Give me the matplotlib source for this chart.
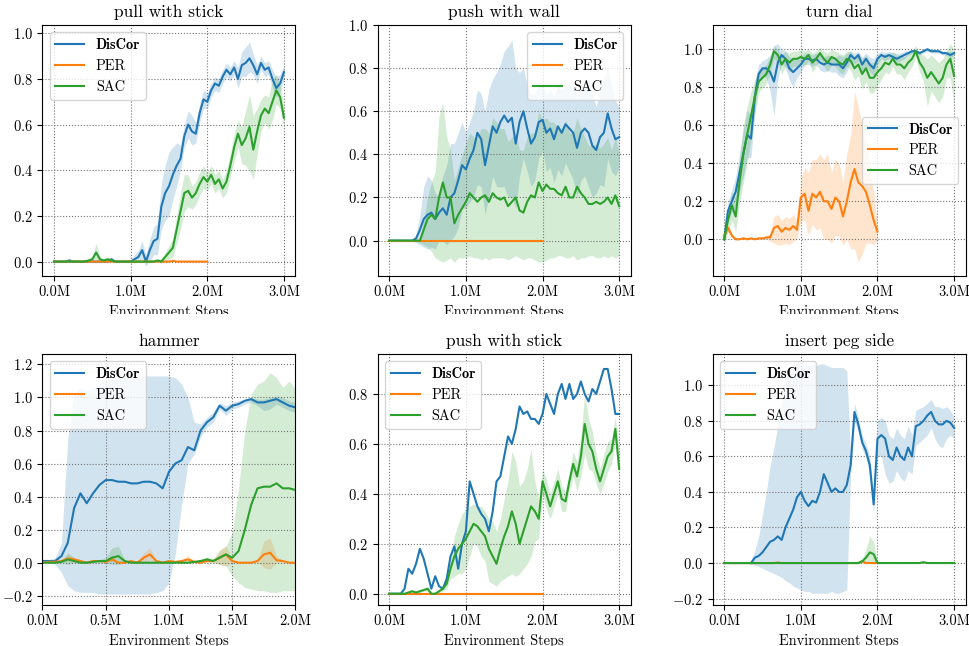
import numpy as np
import matplotlib.pyplot as plt
import matplotlib.ticker as mticker
from matplotlib.patches import Rectangle

plt.rcParams['font.family'] = 'serif'
plt.rcParams['font.serif'] = ['cmr10']
plt.rcParams['mathtext.fontset'] = 'cm'
plt.rcParams['axes.formatter.use_mathtext'] = True
plt.rcParams['font.size'] = 10.4

# environment steps, in millions
steps_3m = np.linspace(0.0, 3.0, 61)
steps_2m = np.linspace(0.0, 2.0, 41)

# ---- pull with stick ----
pull_discor = [0.00, 0.00, 0.00, 0.00, 0.005, 0.00, 0.00, 0.00, 0.00, 0.00,
               0.00, 0.00, 0.00, 0.00, 0.00, 0.01, 0.00, 0.00, 0.00, 0.00,
               0.00, 0.01, 0.02, 0.05, 0.00, 0.05, 0.09, 0.10, 0.24, 0.30,
               0.33, 0.38, 0.42, 0.45, 0.55, 0.60, 0.57, 0.56, 0.65, 0.71,
               0.70, 0.75, 0.78, 0.77, 0.81, 0.84, 0.82, 0.85, 0.80, 0.86,
               0.87, 0.89, 0.86, 0.82, 0.87, 0.84, 0.85, 0.80, 0.76, 0.78,
               0.83]
pull_discor_lo = [0.0] * 20 + [
               0.00, 0.00, 0.00, 0.01, -0.02, 0.00, 0.03, 0.03, 0.14, 0.18,
               0.20, 0.27, 0.33, 0.40, 0.50, 0.54, 0.51, 0.52, 0.61, 0.67,
               0.67, 0.72, 0.75, 0.74, 0.78, 0.81, 0.79, 0.82, 0.76, 0.81,
               0.81, 0.83, 0.82, 0.78, 0.84, 0.81, 0.82, 0.76, 0.72, 0.74,
               0.80]
pull_discor_hi = [0.00, 0.00, 0.00, 0.00, 0.015, 0.00, 0.00, 0.00, 0.00, 0.00,
                  0.00, 0.00, 0.00, 0.00, 0.00, 0.02, 0.00, 0.00, 0.00, 0.00,
                  0.01, 0.03, 0.05, 0.09, 0.03, 0.10, 0.15, 0.17, 0.34, 0.42,
                  0.48, 0.50, 0.52, 0.51, 0.60, 0.66, 0.64, 0.61, 0.69, 0.75,
                  0.74, 0.78, 0.81, 0.80, 0.84, 0.87, 0.85, 0.88, 0.85, 0.92,
                  0.94, 0.96, 0.91, 0.86, 0.90, 0.87, 0.88, 0.84, 0.81, 0.82,
                  0.86]
pull_sac = [0.00, 0.00, 0.00, 0.00, 0.00, 0.00, 0.00, 0.00, 0.00, 0.005,
            0.01, 0.04, 0.01, 0.005, 0.01, 0.005, 0.00, 0.00, 0.00, 0.00,
            0.00, 0.00, 0.00, 0.00, 0.00, 0.00, 0.00, 0.005, 0.00, 0.02,
            0.04, 0.06, 0.14, 0.22, 0.30, 0.31, 0.28, 0.30, 0.34, 0.37,
            0.35, 0.38, 0.34, 0.36, 0.32, 0.35, 0.42, 0.50, 0.56, 0.51,
            0.54, 0.59, 0.49, 0.57, 0.64, 0.67, 0.65, 0.70, 0.75, 0.72,
            0.63]
pull_sac_lo = [0.0] * 11 + [0.01] + [0.0] * 18 + [
               0.01, 0.02, 0.08, 0.14, 0.22, 0.24, 0.23, 0.25, 0.29, 0.32,
               0.31, 0.34, 0.30, 0.32, 0.28, 0.30, 0.37, 0.44, 0.50, 0.43,
               0.42, 0.40, 0.36, 0.47, 0.57, 0.61, 0.58, 0.62, 0.69, 0.67,
               0.58]
pull_sac_hi = [0.00, 0.00, 0.00, 0.00, 0.00, 0.00, 0.00, 0.00, 0.00, 0.01,
               0.02, 0.08, 0.02, 0.01, 0.02, 0.01, 0.00, 0.00, 0.00, 0.00,
               0.00, 0.00, 0.00, 0.00, 0.00, 0.00, 0.00, 0.01, 0.01, 0.04,
               0.07, 0.10, 0.20, 0.30, 0.38, 0.38, 0.33, 0.35, 0.39, 0.42,
               0.39, 0.42, 0.38, 0.40, 0.36, 0.40, 0.47, 0.56, 0.62, 0.59,
               0.66, 0.73, 0.64, 0.67, 0.71, 0.73, 0.72, 0.80, 0.82, 0.77,
               0.68]
pull_per = [0.0] * 31 + [0.003] + [0.0] * 9

# ---- push with wall ----
wall_discor = [0.00, 0.00, 0.00, 0.00, 0.00, 0.00, 0.00, 0.01, 0.05, 0.10,
               0.12, 0.13, 0.10, 0.13, 0.15, 0.12, 0.20, 0.22, 0.28, 0.35,
               0.33, 0.38, 0.42, 0.50, 0.47, 0.35, 0.44, 0.53, 0.50, 0.55,
               0.58, 0.55, 0.57, 0.45, 0.55, 0.60, 0.52, 0.45, 0.48, 0.55,
               0.56, 0.50, 0.52, 0.47, 0.53, 0.50, 0.54, 0.52, 0.50, 0.43,
               0.50, 0.52, 0.50, 0.44, 0.42, 0.48, 0.50, 0.59, 0.52, 0.47,
               0.48]
wall_discor_lo = [0.00, 0.00, 0.00, 0.00, 0.00, 0.00, 0.00, -0.01, -0.02, -0.03,
                  -0.04, -0.03, -0.04, 0.00, 0.00, -0.02, 0.00, 0.02, 0.06, 0.15,
                  0.15, 0.18, 0.20, 0.26, 0.25, 0.12, 0.20, 0.30, 0.25, 0.25,
                  0.25, 0.20, 0.20, 0.15, 0.30, 0.38, 0.32, 0.25, 0.28, 0.38,
                  0.42, 0.32, 0.34, 0.27, 0.33, 0.30, 0.36, 0.32, 0.28, 0.20,
                  0.28, 0.30, 0.25, 0.20, 0.22, 0.26, 0.25, 0.38, 0.32, 0.30,
                  0.34]
wall_discor_hi = [0.00, 0.00, 0.00, 0.00, 0.00, 0.00, 0.00, 0.02, 0.12, 0.25,
                  0.30, 0.28, 0.22, 0.20, 0.30, 0.35, 0.45, 0.45, 0.50, 0.55,
                  0.50, 0.55, 0.60, 0.70, 0.68, 0.60, 0.70, 0.75, 0.78, 0.82,
                  0.88, 0.90, 0.93, 0.80, 0.78, 0.80, 0.72, 0.68, 0.68, 0.72,
                  0.72, 0.68, 0.70, 0.67, 0.72, 0.70, 0.72, 0.72, 0.72, 0.66,
                  0.72, 0.74, 0.75, 0.68, 0.62, 0.70, 0.75, 0.80, 0.72, 0.65,
                  0.62]
wall_sac = [0.00, 0.00, 0.00, 0.00, 0.00, 0.00, 0.00, 0.00, 0.00, 0.05,
            0.10, 0.12, 0.10, 0.20, 0.27, 0.20, 0.20, 0.08, 0.12, 0.15,
            0.18, 0.22, 0.20, 0.18, 0.20, 0.21, 0.18, 0.22, 0.20, 0.19,
            0.20, 0.16, 0.18, 0.20, 0.14, 0.13, 0.18, 0.21, 0.20, 0.27,
            0.23, 0.26, 0.24, 0.24, 0.22, 0.21, 0.25, 0.20, 0.20, 0.25,
            0.22, 0.20, 0.17, 0.17, 0.18, 0.17, 0.18, 0.20, 0.17, 0.21,
            0.16]
wall_sac_lo = [0.00, 0.00, 0.00, 0.00, 0.00, 0.00, 0.00, 0.00, -0.01, -0.02,
               -0.03, -0.05, -0.08, -0.09, -0.10, -0.09, -0.08, -0.10, -0.08, -0.08,
               -0.08, -0.07, -0.08, -0.08, -0.09, -0.08, -0.09, -0.08, -0.08, -0.08,
               -0.08, -0.09, -0.08, -0.07, -0.08, -0.09, -0.08, -0.08, -0.09, -0.10,
               -0.10, -0.09, -0.08, -0.08, -0.07, -0.07, -0.08, -0.08, -0.07, -0.09,
               -0.08, -0.08, -0.07, -0.07, -0.08, -0.08, -0.07, -0.08, -0.07, -0.08,
               -0.07]
wall_sac_hi = [0.00, 0.00, 0.00, 0.00, 0.00, 0.00, 0.00, 0.00, 0.01, 0.10,
               0.20, 0.27, 0.32, 0.58, 0.64, 0.48, 0.42, 0.28, 0.34, 0.40,
               0.45, 0.50, 0.48, 0.48, 0.52, 0.52, 0.50, 0.57, 0.55, 0.52,
               0.52, 0.46, 0.48, 0.50, 0.42, 0.42, 0.48, 0.50, 0.50, 0.60,
               0.56, 0.57, 0.55, 0.55, 0.52, 0.50, 0.56, 0.50, 0.50, 0.57,
               0.52, 0.48, 0.44, 0.44, 0.45, 0.43, 0.45, 0.48, 0.42, 0.48,
               0.41]
wall_per = [0.0] * 41

# ---- turn dial ----
dial_discor = [0.00, 0.15, 0.20, 0.25, 0.35, 0.45, 0.55, 0.53, 0.75, 0.87,
               0.90, 0.90, 0.88, 0.83, 0.93, 0.97, 0.95, 0.90, 0.88, 0.90,
               0.92, 0.95, 0.95, 0.94, 0.95, 0.93, 0.92, 0.93, 0.92, 0.92,
               0.92, 0.90, 0.93, 0.97, 0.95, 0.97, 0.92, 0.95, 0.92, 0.90,
               0.95, 0.97, 0.96, 0.97, 0.96, 0.95, 0.96, 0.97, 0.98, 0.99,
               0.99, 0.98, 0.99, 1.00, 0.99, 0.99, 0.99, 0.98, 0.98, 0.97,
               0.98]
dial_discor_lo = [-0.02, 0.10, 0.14, 0.17, 0.25, 0.33, 0.43, 0.43, 0.67, 0.82,
                  0.86, 0.85, 0.78, 0.65, 0.84, 0.93, 0.90, 0.84, 0.80, 0.85,
                  0.88, 0.92, 0.92, 0.91, 0.92, 0.89, 0.88, 0.89, 0.88, 0.88,
                  0.86, 0.85, 0.88, 0.94, 0.92, 0.94, 0.88, 0.91, 0.88, 0.86,
                  0.92, 0.95, 0.94, 0.95, 0.94, 0.93, 0.94, 0.95, 0.97, 0.98,
                  0.98, 0.97, 0.98, 0.99, 0.98, 0.98, 0.98, 0.97, 0.97, 0.95,
                  0.97]
dial_discor_hi = [0.02, 0.20, 0.26, 0.33, 0.45, 0.58, 0.68, 0.65, 0.83, 0.92,
                  0.94, 0.95, 0.97, 1.02, 1.03, 1.00, 0.99, 0.96, 0.95, 0.95,
                  0.96, 0.98, 0.98, 0.97, 0.98, 0.97, 0.96, 0.97, 0.96, 0.96,
                  0.97, 0.96, 0.98, 0.99, 0.98, 0.99, 0.96, 0.98, 0.96, 0.95,
                  0.98, 0.99, 0.98, 0.99, 0.98, 0.98, 0.98, 0.99, 0.99, 1.00,
                  1.00, 0.99, 1.00, 1.01, 1.00, 1.00, 1.00, 0.99, 0.99, 0.99,
                  0.99]
dial_sac = [0.00, 0.10, 0.18, 0.12, 0.30, 0.45, 0.55, 0.65, 0.75, 0.83,
            0.85, 0.87, 0.92, 0.99, 0.97, 0.92, 0.95, 0.93, 0.95, 0.95,
            0.96, 0.95, 0.97, 0.93, 0.95, 0.98, 0.95, 0.93, 0.96, 0.95,
            0.93, 0.92, 0.95, 0.94, 0.90, 0.92, 0.87, 0.90, 0.85, 0.85,
            0.88, 0.90, 0.93, 0.92, 0.95, 0.92, 0.92, 0.90, 0.93, 0.95,
            0.99, 0.93, 0.90, 0.85, 0.88, 0.85, 0.82, 0.85, 0.92, 0.95,
            0.86]
dial_sac_lo = [-0.03, 0.04, 0.10, 0.04, 0.18, 0.30, 0.40, 0.52, 0.66, 0.77,
               0.80, 0.82, 0.88, 0.95, 0.93, 0.87, 0.91, 0.88, 0.91, 0.91,
               0.92, 0.91, 0.94, 0.88, 0.91, 0.95, 0.91, 0.88, 0.92, 0.91,
               0.88, 0.87, 0.91, 0.89, 0.84, 0.86, 0.79, 0.83, 0.77, 0.77,
               0.81, 0.84, 0.88, 0.87, 0.91, 0.87, 0.87, 0.84, 0.88, 0.91,
               0.96, 0.88, 0.83, 0.70, 0.78, 0.75, 0.72, 0.75, 0.85, 0.85,
               0.70]
dial_sac_hi = [0.03, 0.16, 0.25, 0.22, 0.42, 0.60, 0.70, 0.78, 0.84, 0.89,
               0.90, 0.92, 0.96, 1.02, 1.00, 0.97, 0.99, 0.98, 0.99, 0.99,
               1.00, 0.99, 1.00, 0.98, 0.99, 1.01, 0.99, 0.98, 1.00, 0.99,
               0.98, 0.97, 0.99, 0.99, 0.96, 0.98, 0.95, 0.97, 0.93, 0.93,
               0.95, 0.96, 0.98, 0.97, 0.99, 0.97, 0.97, 0.96, 0.98, 0.99,
               1.02, 0.98, 0.97, 0.95, 0.97, 0.95, 0.93, 0.95, 0.99, 1.03,
               1.00]
dial_per = [0.02, 0.06, 0.02, 0.00, 0.00, 0.005, 0.00, 0.005, 0.00, 0.005,
            0.005, 0.01, 0.01, 0.06, 0.07, 0.04, 0.06, 0.05, 0.07, 0.05,
            0.22, 0.24, 0.15, 0.24, 0.22, 0.25, 0.20, 0.20, 0.16, 0.22,
            0.20, 0.12, 0.20, 0.30, 0.37, 0.30, 0.28, 0.25, 0.18, 0.10,
            0.04]
dial_per_lo = [0.01, 0.04, 0.01, 0.00, 0.00, 0.00, 0.00, 0.00, 0.00, 0.00,
               0.00, 0.00, -0.01, -0.02, -0.03, -0.03, -0.02, -0.03, -0.01, 0.00,
               0.10, 0.10, 0.02, 0.08, 0.05, 0.06, 0.00, 0.00, -0.02, 0.02,
               0.02, -0.03, 0.00, -0.05, -0.05, -0.12, -0.08, -0.02, -0.02, -0.03,
               0.00]
dial_per_hi = [0.03, 0.08, 0.03, 0.01, 0.01, 0.01, 0.01, 0.01, 0.01, 0.01,
               0.01, 0.02, 0.03, 0.12, 0.13, 0.10, 0.12, 0.11, 0.13, 0.10,
               0.32, 0.38, 0.35, 0.42, 0.42, 0.45, 0.42, 0.45, 0.35, 0.42,
               0.40, 0.30, 0.45, 0.55, 0.78, 0.70, 0.60, 0.50, 0.38, 0.25,
               0.08]

# ---- hammer ----
ham_discor = [0.01, 0.01, 0.01, 0.04, 0.12, 0.33, 0.42, 0.36, 0.42, 0.47,
              0.50, 0.50, 0.49, 0.49, 0.48, 0.48, 0.49, 0.49, 0.48, 0.45,
              0.55, 0.60, 0.62, 0.70, 0.68, 0.80, 0.85, 0.88, 0.95, 0.92,
              0.95, 0.96, 0.98, 0.99, 0.97, 0.97, 0.98, 0.99, 0.97, 0.95,
              0.94]
ham_discor_lo = [0.00, 0.00, -0.01, -0.06, -0.14, -0.17, -0.18, -0.18, -0.18, -0.19,
                 -0.19, -0.19, -0.19, -0.19, -0.19, -0.19, -0.19, -0.19, -0.18, -0.17,
                 -0.12, 0.05, 0.35, 0.60, 0.66, 0.76, 0.82, 0.85, 0.93, 0.89,
                 0.93, 0.94, 0.96, 0.97, 0.95, 0.92, 0.93, 0.96, 0.94, 0.92,
                 0.91]
ham_discor_hi = [0.02, 0.02, 0.03, 0.12, 0.75, 1.02, 1.06, 1.04, 1.06, 1.08,
                 1.10, 1.11, 1.12, 1.12, 1.12, 1.13, 1.13, 1.13, 1.13, 1.13,
                 1.13, 1.12, 1.08, 1.00, 0.85, 0.84, 0.88, 0.91, 0.97, 0.95,
                 0.97, 0.98, 0.99, 1.00, 0.99, 0.99, 1.00, 1.01, 1.00, 0.98,
                 0.97]
ham_sac = [0.00, 0.00, 0.00, 0.005, 0.02, 0.01, 0.00, 0.00, 0.005, 0.01,
           0.01, 0.03, 0.04, 0.01, 0.00, 0.00, 0.00, 0.00, 0.00, 0.00,
           0.00, 0.00, 0.00, 0.00, 0.005, 0.01, 0.02, 0.01, 0.03, 0.05,
           0.03, 0.07, 0.20, 0.35, 0.45, 0.46, 0.46, 0.48, 0.45, 0.45,
           0.44]
ham_sac_lo = [0.00, 0.00, 0.00, 0.00, -0.01, 0.00, 0.00, 0.00, 0.00, 0.00,
              0.00, -0.01, -0.01, 0.00, 0.00, 0.00, 0.00, 0.00, 0.00, 0.00,
              0.00, 0.00, 0.00, 0.00, 0.00, 0.00, 0.005, 0.00, -0.01, -0.02,
              -0.08, -0.12, -0.15, -0.16, -0.17, -0.17, -0.18, -0.18, -0.17, -0.17,
              -0.17]
ham_sac_hi = [0.005, 0.005, 0.005, 0.01, 0.06, 0.03, 0.01, 0.005, 0.01, 0.02,
              0.03, 0.09, 0.10, 0.02, 0.00, 0.00, 0.00, 0.00, 0.00, 0.00,
              0.00, 0.00, 0.00, 0.00, 0.01, 0.02, 0.035, 0.02, 0.07, 0.10,
              0.18, 0.45, 0.80, 1.02, 1.08, 1.10, 1.15, 1.12, 1.06, 1.10,
              1.05]
ham_per = [0.00, 0.005, 0.005, 0.01, 0.025, 0.02, 0.01, 0.00, 0.01, 0.01,
           0.005, 0.02, 0.00, 0.00, 0.01, 0.00, 0.03, 0.05, 0.01, 0.00,
           0.01, 0.005, 0.01, 0.02, 0.005, 0.00, 0.01, 0.01, 0.03, 0.05,
           0.01, 0.00, 0.00, 0.00, 0.01, 0.05, 0.06, 0.015, 0.01, 0.00,
           0.00]
ham_per_lo = [0.00, 0.00, 0.00, 0.005, 0.01, 0.01, 0.005, 0.00, 0.005, 0.005,
              0.00, 0.01, 0.00, 0.00, 0.005, 0.00, 0.00, 0.015, 0.005, 0.00,
              0.005, 0.00, 0.005, 0.00, 0.00, 0.00, 0.005, 0.005, -0.01, -0.02,
              0.00, 0.00, 0.00, 0.00, 0.005, -0.03, -0.04, 0.00, 0.005, 0.00,
              0.00]
ham_per_hi = [0.00, 0.01, 0.01, 0.015, 0.05, 0.03, 0.015, 0.00, 0.015, 0.015,
              0.01, 0.05, 0.00, 0.00, 0.015, 0.00, 0.06, 0.09, 0.015, 0.00,
              0.015, 0.01, 0.015, 0.045, 0.01, 0.00, 0.015, 0.015, 0.08, 0.10,
              0.02, 0.00, 0.00, 0.00, 0.015, 0.13, 0.15, 0.04, 0.015, 0.00,
              0.00]

# ---- push with stick ----
stick_discor = [0.00, 0.00, 0.00, 0.00, 0.02, 0.10, 0.08, 0.12, 0.18, 0.14,
                0.08, 0.02, 0.07, 0.03, 0.02, 0.06, 0.15, 0.19, 0.10, 0.20,
                0.25, 0.45, 0.40, 0.35, 0.32, 0.30, 0.25, 0.33, 0.45, 0.47,
                0.55, 0.63, 0.60, 0.66, 0.75, 0.72, 0.73, 0.70, 0.70, 0.68,
                0.72, 0.80, 0.76, 0.72, 0.80, 0.84, 0.78, 0.84, 0.78, 0.80,
                0.85, 0.80, 0.77, 0.82, 0.80, 0.85, 0.90, 0.90, 0.82, 0.72,
                0.72]
stick_sac = [0.00, 0.00, 0.00, 0.00, 0.00, 0.005, 0.01, 0.005, 0.01, 0.015,
             0.02, 0.00, 0.00, 0.01, 0.02, 0.04, 0.10, 0.15, 0.18, 0.20,
             0.22, 0.25, 0.28, 0.27, 0.25, 0.23, 0.18, 0.15, 0.12, 0.18,
             0.23, 0.27, 0.33, 0.28, 0.20, 0.25, 0.30, 0.35, 0.33, 0.30,
             0.45, 0.40, 0.35, 0.40, 0.45, 0.38, 0.37, 0.45, 0.52, 0.47,
             0.55, 0.68, 0.60, 0.57, 0.50, 0.45, 0.50, 0.55, 0.57, 0.66,
             0.50]
stick_sac_lo = [0.00, 0.00, 0.00, 0.00, 0.00, 0.00, 0.005, 0.00, 0.005, 0.01,
                0.01, 0.00, 0.00, 0.005, 0.01, 0.02, 0.06, 0.07, 0.08, 0.08,
                0.10, 0.15, 0.20, 0.19, 0.15, 0.13, 0.05, 0.04, 0.03, 0.05,
                0.06, 0.07, 0.08, 0.07, 0.08, 0.10, 0.12, 0.15, 0.21, 0.22,
                0.40, 0.34, 0.30, 0.35, 0.40, 0.33, 0.33, 0.41, 0.47, 0.41,
                0.47, 0.56, 0.50, 0.49, 0.44, 0.40, 0.44, 0.49, 0.52, 0.61,
                0.45]
stick_sac_hi = [0.00, 0.00, 0.00, 0.00, 0.005, 0.01, 0.015, 0.01, 0.015, 0.02,
                0.03, 0.005, 0.005, 0.015, 0.03, 0.06, 0.14, 0.23, 0.28, 0.32,
                0.34, 0.35, 0.36, 0.35, 0.35, 0.33, 0.30, 0.29, 0.25, 0.30,
                0.38, 0.45, 0.57, 0.53, 0.43, 0.45, 0.50, 0.58, 0.45, 0.38,
                0.50, 0.46, 0.40, 0.45, 0.50, 0.43, 0.41, 0.49, 0.57, 0.53,
                0.63, 0.80, 0.70, 0.65, 0.56, 0.50, 0.56, 0.61, 0.62, 0.71,
                0.55]
stick_per = [0.0] * 41

# ---- insert peg side ----
peg_discor = [0.00, 0.00, 0.00, 0.00, 0.00, 0.00, 0.00, 0.00, 0.03, 0.04,
              0.06, 0.09, 0.12, 0.13, 0.15, 0.13, 0.20, 0.25, 0.30, 0.37,
              0.40, 0.35, 0.32, 0.35, 0.34, 0.40, 0.50, 0.45, 0.40, 0.42,
              0.40, 0.40, 0.44, 0.55, 0.85, 0.78, 0.68, 0.63, 0.55, 0.33,
              0.70, 0.72, 0.70, 0.60, 0.58, 0.65, 0.60, 0.58, 0.65, 0.60,
              0.77, 0.78, 0.80, 0.83, 0.85, 0.80, 0.78, 0.78, 0.80, 0.79,
              0.76]
peg_discor_lo = [0.00, 0.00, 0.00, 0.00, 0.00, 0.00, 0.00, -0.01, -0.01, -0.02,
                 -0.03, -0.04, -0.05, -0.06, -0.07, -0.08, -0.10, -0.11, -0.13, -0.14,
                 -0.15, -0.16, -0.16, -0.17, -0.17, -0.17, -0.17, -0.17, -0.16, -0.17,
                 -0.17, -0.16, -0.15, 0.50, 0.80, 0.74, 0.64, 0.59, 0.50, 0.28,
                 0.60, 0.60, 0.50, 0.45, 0.46, 0.52, 0.48, 0.46, 0.52, 0.50,
                 0.66, 0.68, 0.70, 0.72, 0.76, 0.70, 0.66, 0.65, 0.70, 0.72,
                 0.70]
peg_discor_hi = [0.00, 0.00, 0.00, 0.00, 0.00, 0.00, 0.00, 0.01, 0.07, 0.15,
                 0.27, 0.40, 0.55, 0.65, 0.78, 0.90, 1.03, 1.08, 1.12, 1.12,
                 1.12, 1.12, 1.11, 1.12, 1.11, 1.12, 1.12, 1.11, 1.10, 1.10,
                 1.10, 1.10, 1.08, 0.60, 0.90, 0.82, 0.72, 0.67, 0.60, 0.38,
                 0.80, 0.82, 0.80, 0.72, 0.70, 0.76, 0.72, 0.70, 0.77, 0.72,
                 0.86, 0.87, 0.88, 0.90, 0.92, 0.88, 0.88, 0.87, 0.88, 0.86,
                 0.82]
peg_sac = [0.0] * 36 + [0.01, 0.03, 0.06, 0.05, 0.00] + [0.0] * 11 + [0.005] + [0.0] * 8
peg_sac_lo = [0.0] * 61
peg_sac_hi = [0.0] * 36 + [0.02, 0.08, 0.15, 0.12, 0.00] + [0.0] * 11 + [0.01] + [0.0] * 8
peg_per = [0.0] * 14 + [0.003] + [0.0] * 21 + [0.01] + [0.0] * 4

BLUE, ORANGE, GREEN = 'tab:blue', 'tab:orange', 'tab:green'


def m_label(x, pos):
    return '{:.1f}M'.format(x)


def plot_task(ax, title, curves, xlim, xticks, ylim, yticks, legend_loc):
    """Draw one task: mean success with a shaded band per method."""
    for label, color, x, mean, lo, hi in curves:
        if lo is not None:
            ax.fill_between(x, lo, hi, color=color, alpha=0.2, lw=0)
        ax.plot(x, mean, color=color, lw=1.5, label=label)

    ax.set_xlim(*xlim)
    ax.set_ylim(*ylim)
    ax.set_xticks(xticks)
    ax.set_yticks(yticks)
    ax.xaxis.set_major_formatter(mticker.FuncFormatter(m_label))
    ax.grid(True, linestyle=':', color='0.45', lw=0.8)
    ax.set_title(title)
    ax.set_xlabel('Environment Steps')

    leg = ax.legend(loc=legend_loc)
    leg.get_texts()[0].set_fontfamily('cmb10')


fig = plt.figure(figsize=(9.7, 6.46), dpi=100)
col_left = [0.0438, 0.3894, 0.7347]
row_bottom = [0.5728, 0.0635]
w, h = 0.2608, 0.3885

ticks_3m = [0.0, 1.0, 2.0, 3.0]
lim_3m = (-0.15, 3.15)

ax = fig.add_axes([col_left[0], row_bottom[0], w, h])
plot_task(ax, 'pull with stick',
          [('DisCor', BLUE, steps_3m, pull_discor, pull_discor_lo, pull_discor_hi),
           ('PER', ORANGE, steps_2m, pull_per, None, None),
           ('SAC', GREEN, steps_3m, pull_sac, pull_sac_lo, pull_sac_hi)],
          lim_3m, ticks_3m, (-0.063, 1.036), np.arange(0, 1.01, 0.2), 'upper left')

ax = fig.add_axes([col_left[1], row_bottom[0], w, h])
plot_task(ax, 'push with wall',
          [('DisCor', BLUE, steps_3m, wall_discor, wall_discor_lo, wall_discor_hi),
           ('PER', ORANGE, steps_2m, wall_per, None, None),
           ('SAC', GREEN, steps_3m, wall_sac, wall_sac_lo, wall_sac_hi)],
          lim_3m, ticks_3m, (-0.164, 1.0), np.arange(0, 1.01, 0.2), 'upper right')

ax = fig.add_axes([col_left[2], row_bottom[0], w, h])
plot_task(ax, 'turn dial',
          [('DisCor', BLUE, steps_3m, dial_discor, dial_discor_lo, dial_discor_hi),
           ('PER', ORANGE, steps_2m, dial_per, dial_per_lo, dial_per_hi),
           ('SAC', GREEN, steps_3m, dial_sac, dial_sac_lo, dial_sac_hi)],
          lim_3m, ticks_3m, (-0.193, 1.128), np.arange(0, 1.01, 0.2), 'center right')

ax = fig.add_axes([col_left[0], row_bottom[1], w, h])
plot_task(ax, 'hammer',
          [('DisCor', BLUE, steps_2m, ham_discor, ham_discor_lo, ham_discor_hi),
           ('PER', ORANGE, steps_2m, ham_per, ham_per_lo, ham_per_hi),
           ('SAC', GREEN, steps_2m, ham_sac, ham_sac_lo, ham_sac_hi)],
          (0.0, 2.0), [0.0, 0.5, 1.0, 1.5, 2.0], (-0.256, 1.263),
          np.arange(-0.2, 1.21, 0.2), 'upper left')

ax = fig.add_axes([col_left[1], row_bottom[1], w, h])
plot_task(ax, 'push with stick',
          [('DisCor', BLUE, steps_3m, stick_discor, None, None),
           ('PER', ORANGE, steps_2m, stick_per, None, None),
           ('SAC', GREEN, steps_3m, stick_sac, stick_sac_lo, stick_sac_hi)],
          lim_3m, ticks_3m, (-0.045, 0.96), np.arange(0, 0.81, 0.2), 'upper left')

ax = fig.add_axes([col_left[2], row_bottom[1], w, h])
plot_task(ax, 'insert peg side',
          [('DisCor', BLUE, steps_3m, peg_discor, peg_discor_lo, peg_discor_hi),
           ('PER', ORANGE, steps_2m, peg_per, None, None),
           ('SAC', GREEN, steps_3m, peg_sac, peg_sac_lo, peg_sac_hi)],
          lim_3m, ticks_3m, (-0.236, 1.176), np.arange(-0.2, 1.01, 0.2), 'upper left')

# the top row was exported as its own strip, trimmed just under the labels
fig.patches.append(Rectangle((0.0, 0.486), 1.0, 0.0287, transform=fig.transFigure,
                             facecolor='white', edgecolor='none', zorder=10))

fig.savefig('out.png', dpi=100)
